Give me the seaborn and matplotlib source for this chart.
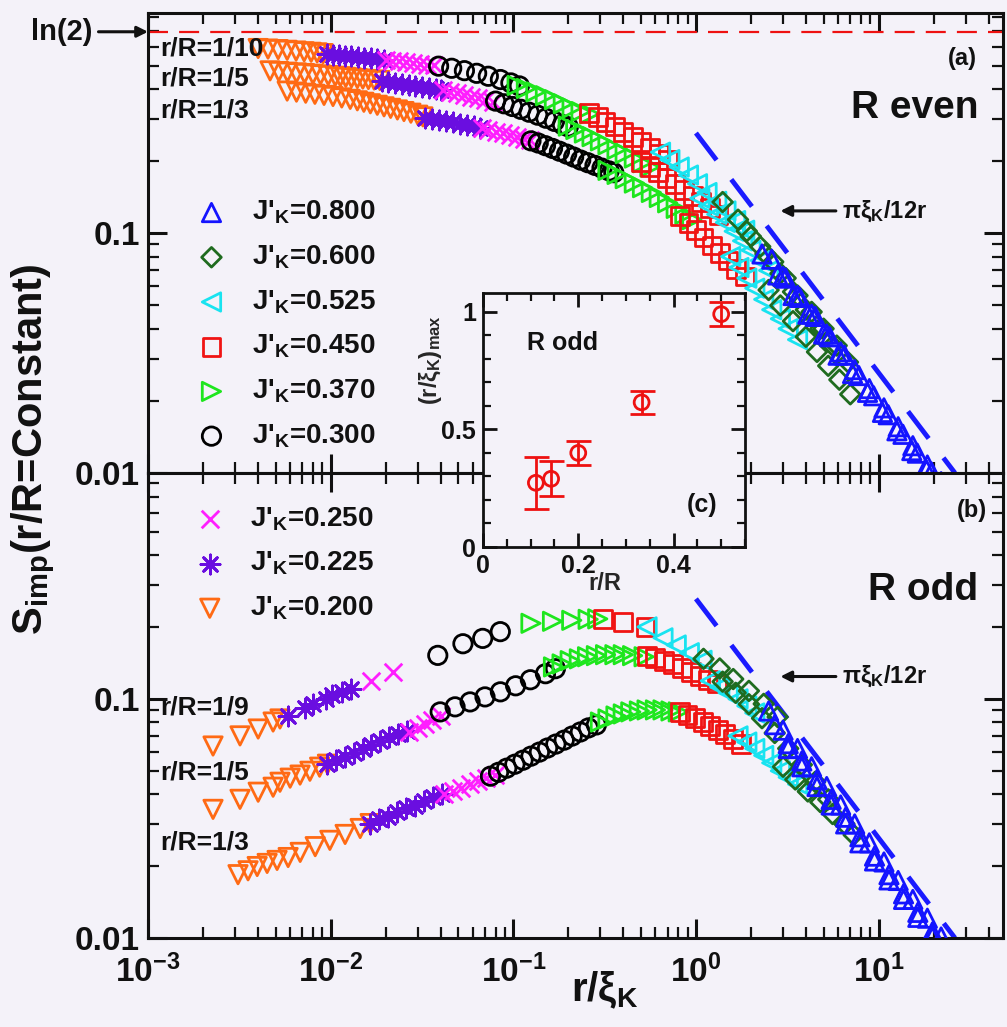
import warnings
warnings.filterwarnings("ignore")
import numpy as np
import pandas as pd
import matplotlib
matplotlib.use("Agg")
import matplotlib.pyplot as plt
from matplotlib.ticker import LogLocator, NullFormatter, MultipleLocator
import seaborn as sns

# ---------------- data ----------------
J_ORDER = ["0.200", "0.225", "0.250", "0.300", "0.370", "0.450", "0.525", "0.600", "0.800"]
LEGEND_TOP = ["0.800", "0.600", "0.525", "0.450", "0.370", "0.300"]
LEGEND_BOTTOM = ["0.250", "0.225", "0.200"]

# panel (a): R even, r/R = 1/10
EVEN_10_X = [
    [0.00401, 0.00454, 0.00516, 0.00578, 0.00647, 0.00716, 0.00782, 0.00843, 0.0091],
    [0.0095, 0.0103, 0.0111, 0.0120, 0.0130, 0.0141, 0.0153, 0.0166, 0.0180, 0.0195],
    [0.0200, 0.0218, 0.0238, 0.0260, 0.0284, 0.0310, 0.0338, 0.0368],
    [0.039, 0.046, 0.054, 0.063, 0.073, 0.085, 0.097, 0.108],
    [0.105, 0.118, 0.133, 0.150, 0.168, 0.188, 0.210, 0.235, 0.262],
    [0.26, 0.29, 0.32, 0.36, 0.40, 0.45, 0.50, 0.56, 0.63, 0.70],
    [0.64, 0.72, 0.81, 0.91, 1.02, 1.15, 1.30, 1.46, 1.65, 1.85],
    [1.4, 1.7, 2.0, 2.4, 2.9, 3.4, 4.0, 4.8, 5.6],
    [2.3, 2.8, 3.4, 4.1, 5.0, 6.0, 7.2, 8.7, 10.5, 12.6, 15.2, 18.3, 21.0],
]
EVEN_10_Y = [
    [0.590, 0.587, 0.584, 0.580, 0.576, 0.572, 0.569, 0.566, 0.562],
    [0.559, 0.556, 0.553, 0.550, 0.547, 0.544, 0.540, 0.537, 0.534, 0.530],
    [0.529, 0.525, 0.521, 0.518, 0.514, 0.510, 0.506, 0.502],
    [0.498, 0.488, 0.477, 0.465, 0.452, 0.438, 0.424, 0.412],
    [0.414, 0.402, 0.389, 0.375, 0.361, 0.347, 0.333, 0.322, 0.315],
    [0.318, 0.305, 0.292, 0.279, 0.265, 0.252, 0.240, 0.227, 0.214, 0.202],
    [0.218, 0.203, 0.189, 0.175, 0.161, 0.148, 0.136, 0.124, 0.113, 0.103],
    [0.135, 0.114, 0.097, 0.082, 0.068, 0.057, 0.048, 0.040, 0.034],
    [0.082, 0.067, 0.055, 0.046, 0.038, 0.031, 0.026, 0.0217, 0.0179, 0.0150, 0.0124, 0.0103, 0.0090],
]

# panel (a): R even, r/R = 1/5
EVEN_5_X = [
    [0.00466, 0.0052, 0.0058, 0.0065, 0.0072, 0.0080, 0.0088, 0.0097, 0.0106, 0.0113, 0.0121,
     0.0130, 0.0140, 0.0150, 0.0161, 0.0173, 0.0186],
    [0.0190, 0.0207, 0.0225, 0.0245, 0.0267, 0.0291, 0.0317, 0.0345, 0.0376, 0.040],
    [0.041, 0.045, 0.049, 0.054, 0.059, 0.064, 0.070, 0.077],
    [0.080, 0.089, 0.099, 0.110, 0.122, 0.136, 0.151, 0.168, 0.186, 0.200],
    [0.20, 0.22, 0.245, 0.27, 0.30, 0.33, 0.37, 0.41, 0.46, 0.51, 0.56],
    [0.50, 0.56, 0.62, 0.69, 0.77, 0.86, 0.96, 1.07, 1.19, 1.33],
    [1.05, 1.17, 1.3, 1.45, 1.62, 1.8, 2.0, 2.25, 2.5],
    [1.9, 2.25, 2.65, 3.1, 3.6, 4.3, 5.0, 5.9, 6.8],
    [2.6, 3.1, 3.7, 4.5, 5.4, 6.5, 7.8, 9.4, 11.3, 13.6, 16.3, 19.5],
]
EVEN_5_Y = [
    [0.476, 0.473, 0.470, 0.467, 0.464, 0.461, 0.458, 0.455, 0.452, 0.450, 0.447,
     0.445, 0.442, 0.440, 0.438, 0.436, 0.434],
    [0.432, 0.428, 0.424, 0.420, 0.416, 0.412, 0.408, 0.404, 0.400, 0.397],
    [0.396, 0.390, 0.384, 0.378, 0.372, 0.366, 0.360, 0.354],
    [0.356, 0.347, 0.338, 0.329, 0.320, 0.311, 0.302, 0.293, 0.284, 0.278],
    [0.280, 0.271, 0.262, 0.253, 0.243, 0.234, 0.224, 0.215, 0.206, 0.197, 0.189],
    [0.199, 0.189, 0.180, 0.170, 0.161, 0.152, 0.143, 0.135, 0.127, 0.119],
    [0.140, 0.130, 0.120, 0.111, 0.102, 0.093, 0.085, 0.077, 0.070],
    [0.102, 0.088, 0.076, 0.065, 0.055, 0.047, 0.040, 0.034, 0.029],
    [0.078, 0.065, 0.054, 0.045, 0.037, 0.031, 0.0255, 0.021, 0.0175, 0.0145, 0.0121, 0.0101],
]

# panel (a): R even, r/R = 1/3
EVEN_3_X = [
    [0.00578, 0.0065, 0.0073, 0.0082, 0.0092, 0.0103, 0.0115, 0.0128, 0.0140, 0.0152, 0.0165,
     0.0180, 0.0196, 0.0213, 0.0232, 0.0252, 0.0275, 0.0300, 0.032],
    [0.033, 0.036, 0.039, 0.043, 0.047, 0.051, 0.056, 0.061, 0.066],
    [0.067, 0.073, 0.080, 0.088, 0.096, 0.105, 0.115, 0.124],
    [0.125, 0.137, 0.150, 0.164, 0.179, 0.196, 0.214, 0.234, 0.256, 0.280, 0.306, 0.335, 0.355],
    [0.33, 0.37, 0.41, 0.46, 0.51, 0.57, 0.63, 0.70, 0.78, 0.87, 0.95],
    [0.82, 0.91, 1.0, 1.1, 1.22, 1.35, 1.5, 1.66, 1.85],
    [1.55, 1.72, 1.9, 2.1, 2.35, 2.6, 2.9, 3.2, 3.6],
    [2.5, 2.9, 3.4, 4.0, 4.6, 5.3, 6.1, 7.0],
    [3.0, 3.6, 4.3, 5.2, 6.2, 7.4, 8.9, 10.7, 12.8, 15.4, 18.5, 22.0],
]
EVEN_3_Y = [
    [0.392, 0.388, 0.384, 0.380, 0.376, 0.372, 0.367, 0.362, 0.357, 0.352, 0.347,
     0.342, 0.337, 0.332, 0.327, 0.322, 0.317, 0.311, 0.306],
    [0.304, 0.300, 0.297, 0.293, 0.290, 0.286, 0.283, 0.279, 0.276],
    [0.274, 0.270, 0.265, 0.261, 0.257, 0.252, 0.248, 0.244],
    [0.243, 0.238, 0.232, 0.226, 0.220, 0.214, 0.208, 0.202, 0.197, 0.192, 0.187, 0.182, 0.179],
    [0.183, 0.176, 0.169, 0.162, 0.155, 0.148, 0.141, 0.134, 0.127, 0.120, 0.114],
    [0.118, 0.110, 0.103, 0.096, 0.089, 0.083, 0.077, 0.071, 0.066],
    [0.080, 0.072, 0.065, 0.059, 0.053, 0.048, 0.044, 0.040, 0.036],
    [0.058, 0.050, 0.043, 0.037, 0.032, 0.028, 0.0245, 0.0213],
    [0.066, 0.055, 0.046, 0.038, 0.032, 0.027, 0.0225, 0.0187, 0.0156, 0.013, 0.0108, 0.0092],
]

# panel (b): R odd, r/R = 1/9
ODD_9_X = [
    [0.00227, 0.00319, 0.00401, 0.00484, 0.00528],
    [0.00585, 0.0072, 0.0080, 0.0094, 0.0102, 0.0115, 0.0129],
    [0.0167, 0.0220],
    [0.0386, 0.0530, 0.0680, 0.0849],
    [0.125, 0.164, 0.209, 0.257, 0.29],
    [0.31, 0.40, 0.53],
    [0.54, 0.66, 0.78, 0.92, 1.08],
    [1.1, 1.35, 1.6, 1.95, 2.35, 2.8],
    [2.5, 3.0, 3.6, 4.3, 5.2, 6.2, 7.4, 8.9, 10.7, 12.8, 15.4, 18.5, 22.0],
]
ODD_9_Y = [
    [0.0635, 0.070, 0.0748, 0.080, 0.0824],
    [0.0848, 0.092, 0.095, 0.100, 0.104, 0.107, 0.110],
    [0.119, 0.130],
    [0.152, 0.170, 0.179, 0.191],
    [0.207, 0.211, 0.213, 0.215, 0.216],
    [0.215, 0.210, 0.200],
    [0.200, 0.180, 0.168, 0.156, 0.145],
    [0.147, 0.134, 0.121, 0.108, 0.0953, 0.084],
    [0.089, 0.074, 0.062, 0.052, 0.043, 0.036, 0.030, 0.025, 0.0208, 0.0174, 0.0145, 0.0121, 0.0101],
]

# panel (b): R odd, r/R = 1/5
ODD_5_X = [
    [0.00227, 0.00319, 0.00401, 0.00484, 0.00528, 0.0060, 0.0068, 0.0077, 0.0087, 0.0096],
    [0.0096, 0.0107, 0.0120, 0.0134, 0.0150, 0.0167, 0.0187, 0.0209, 0.0235, 0.0262],
    [0.027, 0.030, 0.033, 0.036, 0.040],
    [0.0398, 0.048, 0.058, 0.070, 0.085, 0.103, 0.124, 0.150, 0.170],
    [0.166, 0.185, 0.205, 0.23, 0.255, 0.285, 0.32, 0.36, 0.40, 0.45, 0.52],
    [0.54, 0.60, 0.67, 0.75, 0.84, 0.94, 1.05, 1.17, 1.3],
    [1.2, 1.35, 1.5, 1.7, 1.9, 2.1],
    [1.4, 1.65, 1.95, 2.3, 2.7, 3.2, 3.8, 4.5, 5.3],
    [2.7, 3.2, 3.8, 4.6, 5.5, 6.6, 7.9, 9.5, 11.4, 13.7, 16.4, 19.7],
]
ODD_5_Y = [
    [0.0345, 0.0380, 0.0407, 0.0427, 0.0448, 0.0466, 0.0480, 0.0498, 0.0518, 0.0533],
    [0.0533, 0.0554, 0.0570, 0.0592, 0.0617, 0.0640, 0.0666, 0.0692, 0.0713, 0.0734],
    [0.0727, 0.0756, 0.0786, 0.0816, 0.0848],
    [0.0882, 0.0926, 0.0971, 0.1019, 0.1070, 0.1134, 0.1202, 0.1274, 0.1337],
    [0.136, 0.140, 0.1445, 0.147, 0.150, 0.1516, 0.153, 0.153, 0.153, 0.1516, 0.150],
    [0.1516, 0.1487, 0.1445, 0.140, 0.135, 0.130, 0.125, 0.120, 0.116],
    [0.119, 0.112, 0.106, 0.100, 0.0934, 0.0873],
    [0.118, 0.106, 0.095, 0.083, 0.072, 0.062, 0.053, 0.045, 0.038],
    [0.078, 0.065, 0.055, 0.046, 0.038, 0.032, 0.0265, 0.022, 0.0184, 0.0153, 0.0128, 0.0106],
]

# panel (b): R odd, r/R = 1/3
ODD_3_X = [
    [0.00311, 0.00353, 0.00396, 0.00449, 0.00509, 0.00585, 0.00681, 0.00823, 0.0099, 0.0120,
     0.01451, 0.01645],
    [0.0165, 0.0185, 0.0207, 0.0232, 0.026, 0.029, 0.0325, 0.0364, 0.0408],
    [0.042, 0.047, 0.052, 0.058, 0.064, 0.071, 0.079],
    [0.075, 0.083, 0.092, 0.102, 0.113, 0.125, 0.139, 0.154, 0.171, 0.19, 0.21, 0.233, 0.258, 0.285],
    [0.30, 0.33, 0.365, 0.40, 0.44, 0.49, 0.54, 0.60, 0.66, 0.73, 0.80],
    [0.82, 0.9, 0.99, 1.09, 1.2, 1.32, 1.45, 1.6, 1.76],
    [1.7, 1.9, 2.1, 2.35, 2.6, 2.9, 3.2, 3.6],
    [3.0, 3.5, 4.1, 4.8, 5.6, 6.5, 7.3],
    [3.2, 3.8, 4.6, 5.5, 6.6, 7.9, 9.5, 11.4, 13.7, 16.4, 19.7, 23.0],
]
ODD_3_Y = [
    [0.0184, 0.0191, 0.0199, 0.0205, 0.0211, 0.0217, 0.0228, 0.0241, 0.0256, 0.0271,
     0.0287, 0.0301],
    [0.0301, 0.0313, 0.0322, 0.0335, 0.0348, 0.0358, 0.0373, 0.0388, 0.0399],
    [0.0399, 0.0411, 0.0423, 0.0440, 0.0453, 0.0466, 0.0480],
    [0.0475, 0.0493, 0.0513, 0.0533, 0.0554, 0.0576, 0.0599, 0.0623, 0.0647, 0.0672, 0.0699,
     0.0727, 0.0756, 0.0778],
    [0.080, 0.0824, 0.0848, 0.0865, 0.0882, 0.089, 0.0899, 0.0899, 0.0899, 0.089, 0.0882],
    [0.0882, 0.0857, 0.0832, 0.080, 0.077, 0.0741, 0.0713, 0.0679, 0.0647],
    [0.070, 0.066, 0.062, 0.058, 0.054, 0.050, 0.047, 0.044],
    [0.052, 0.046, 0.041, 0.037, 0.033, 0.030, 0.027],
    [0.062, 0.052, 0.043, 0.036, 0.030, 0.025, 0.021, 0.0175, 0.0145, 0.0122, 0.0101, 0.0087],
]

# asymptote pi*xi_K/(12 r), and ln(2)
ASYM_X = [1.0, 26.2]
ASYM_Y = [0.262, 0.0100]
LN2 = 0.693

# inset (c)
INSET_X = [0.111, 0.143, 0.200, 0.333, 0.500]
INSET_Y = [0.273, 0.290, 0.400, 0.615, 0.990]
INSET_ERR = [0.110, 0.075, 0.050, 0.050, 0.050]

CURVE_LABELS_A = ["r/R=1/10", "r/R=1/5", "r/R=1/3"]
CURVE_LABELS_B = ["r/R=1/9", "r/R=1/5", "r/R=1/3"]
XTICKS = [1e-3, 1e-2, 1e-1, 1e0, 1e1]
XTICKLABELS = ["10$^{-3}$", "10$^{-2}$", "10$^{-1}$", "10$^{0}$", "10$^{1}$"]
YTICKS = [0.01, 0.1]
YTICKLABELS = ["0.01", "0.1"]

# ---------------- style ----------------
COLORS = {"0.800": "#1414ff", "0.600": "#1f6b1f", "0.525": "#19e3f0", "0.450": "#f01414",
          "0.370": "#1ee61e", "0.300": "#000000", "0.250": "#ff1eff", "0.225": "#6a0ee0",
          "0.200": "#ff6a14"}
MARKERS = {"0.800": "^", "0.600": "D", "0.525": "<", "0.450": "s", "0.370": ">",
           "0.300": "o", "0.250": "x", "0.225": (8, 2, 0), "0.200": "v"}
SIZES = {"0.800": 175, "0.600": 100, "0.525": 175, "0.450": 165, "0.370": 175,
         "0.300": 175, "0.250": 160, "0.225": 190, "0.200": 175}
LINE_ART = {"0.250", "0.225"}
BG = "#f4f2f9"

sns.set_theme(style="ticks")
plt.rcParams.update({
    "font.family": ["Liberation Sans", "DejaVu Sans"],
    "font.weight": "bold",
    "axes.labelweight": "bold",
    "mathtext.fontset": "custom",
    "mathtext.rm": "Liberation Sans:bold",
    "mathtext.it": "Liberation Sans:bold",
    "mathtext.bf": "Liberation Sans:bold",
    "mathtext.sf": "Liberation Sans:bold",
    "axes.edgecolor": "#111111",
    "xtick.color": "#111111",
    "ytick.color": "#111111",
    "text.color": "#111111",
})


def jlabel(j):
    return "J'$_\\mathrm{K}$=" + j


# ---------------- long table ----------------
rows = []
panels = {"a": [(EVEN_10_X, EVEN_10_Y), (EVEN_5_X, EVEN_5_Y), (EVEN_3_X, EVEN_3_Y)],
          "b": [(ODD_9_X, ODD_9_Y), (ODD_5_X, ODD_5_Y), (ODD_3_X, ODD_3_Y)]}
for pname, curves in panels.items():
    for ci, (xs, ys) in enumerate(curves):
        for j, xv, yv in zip(J_ORDER, xs, ys):
            for a, b in zip(xv, yv):
                rows.append((pname, ci, j, a, b))
df = pd.DataFrame(rows, columns=["panel", "curve", "J", "x", "y"])

fig = plt.figure(figsize=(10.07, 10.27), dpi=100, facecolor=BG)
ax_a = fig.add_axes([0.14697, 0.53944, 0.84906, 0.44791])
ax_b = fig.add_axes([0.14697, 0.08666, 0.84906, 0.45278])


def style_main(ax):
    ax.set_xscale("log")
    ax.set_yscale("log")
    ax.set_facecolor(BG)
    for s in ax.spines.values():
        s.set_linewidth(2.2)
        s.set_color("#111111")


def finish_main(ax, ytop, show_xlabels):
    ax.set_xlim(1e-3, 48)
    ax.set_ylim(0.01, ytop)
    ax.set_xticks(XTICKS, XTICKLABELS)
    ax.set_yticks(YTICKS, YTICKLABELS)
    ax.xaxis.set_minor_locator(LogLocator(base=10, subs=np.arange(2, 10) * 1.0, numticks=30))
    ax.yaxis.set_minor_locator(LogLocator(base=10, subs=np.arange(2, 10) * 1.0, numticks=30))
    ax.xaxis.set_minor_formatter(NullFormatter())
    ax.yaxis.set_minor_formatter(NullFormatter())
    ax.tick_params(which="both", direction="in", top=True, right=True, labelsize=24)
    ax.tick_params(which="major", length=14, width=2.2)
    ax.tick_params(which="minor", length=8, width=1.6)
    ax.tick_params(axis="x", pad=12)
    ax.tick_params(axis="y", pad=6)
    ax.tick_params(axis="x", labelbottom=show_xlabels)
    ax.set_xlabel("")
    ax.set_ylabel("")


def draw_points(ax, sub):
    handles = {}
    for j in J_ORDER:
        d = sub[sub["J"] == j]
        c = COLORS[j]
        kw = dict(marker=MARKERS[j], s=SIZES[j], linewidth=2.0, color=c, edgecolor=c,
                  legend=False, zorder=3)
        if j not in LINE_ART:
            kw["facecolors"] = "none"
        sns.scatterplot(data=d, x="x", y="y", ax=ax, label=jlabel(j), **kw)
        handles[j] = ax.collections[-1]
    return handles


style_main(ax_a)
style_main(ax_b)
h_a = draw_points(ax_a, df[df["panel"] == "a"])
h_b = draw_points(ax_b, df[df["panel"] == "b"])

for ax in (ax_a, ax_b):
    sns.lineplot(x=ASYM_X, y=ASYM_Y, ax=ax, color="#1a1aff", linewidth=3.5,
                 linestyle=(0, (7, 5)), zorder=2)
ax_a.axhline(LN2, color="#ee1111", linewidth=1.6, linestyle=(0, (9, 5)), zorder=2)

finish_main(ax_a, 0.83, False)
finish_main(ax_b, 0.88, True)

# legends
leg_kw = dict(loc="upper left", frameon=False, fontsize=20, handlelength=1.0,
              handletextpad=0.95, labelspacing=0.62, borderpad=0, borderaxespad=0,
              scatterpoints=1)
ax_a.legend([h_a[j] for j in LEGEND_TOP], [jlabel(j) for j in LEGEND_TOP],
            bbox_to_anchor=(0.058, 0.596), **leg_kw)
ax_b.legend([h_b[j] for j in LEGEND_BOTTOM], [jlabel(j) for j in LEGEND_BOTTOM],
            bbox_to_anchor=(0.056, 0.931), **leg_kw)

# curve labels
for lab, yy in zip(CURVE_LABELS_A, [0.922, 0.857, 0.787]):
    ax_a.text(0.014, yy, lab, transform=ax_a.transAxes, fontsize=19, ha="left",
              va="center", zorder=5)
for lab, yy in zip(CURVE_LABELS_B, [0.495, 0.355, 0.206]):
    ax_b.text(0.014, yy, lab, transform=ax_b.transAxes, fontsize=19, ha="left",
              va="center", zorder=5)

ax_a.text(0.953, 0.902, "(a)", transform=ax_a.transAxes, fontsize=17, ha="center", va="center")
ax_a.text(0.897, 0.793, "R even", transform=ax_a.transAxes, fontsize=28, ha="center", va="center")
ax_b.text(0.964, 0.920, "(b)", transform=ax_b.transAxes, fontsize=17, ha="center", va="center")
ax_b.text(0.906, 0.748, "R odd", transform=ax_b.transAxes, fontsize=28, ha="center", va="center")

arrow = dict(arrowstyle="-|>", color="#111111", lw=2.2, mutation_scale=16, shrinkA=2, shrinkB=0)
for ax in (ax_a, ax_b):
    ax.annotate("πξ$_\\mathrm{K}$/12r", xy=(2.9, 0.124), xytext=(6.3, 0.124),
                fontsize=17, ha="left", va="center", arrowprops=arrow, zorder=6)
ax_a.annotate("ln(2)", xy=(0, LN2), xycoords=("axes fraction", "data"),
              xytext=(-40, 0), textcoords="offset points", fontsize=21, ha="right",
              va="center", arrowprops=arrow, annotation_clip=False)

fig.text(0.033, 0.562, "S$_\\mathrm{imp}$(r/R=Constant)", rotation=90, fontsize=30,
         ha="center", va="center")
fig.text(0.600, 0.036, "r/ξ$_\\mathrm{K}$", fontsize=29, ha="center", va="center")

# ---------------- inset (c) ----------------
ax_c = fig.add_axes([0.47964, 0.46738, 0.26018, 0.24732])
ax_c.set_facecolor(BG)
for s in ax_c.spines.values():
    s.set_linewidth(2.0)
    s.set_color("#111111")
ax_c.errorbar(INSET_X, INSET_Y, yerr=INSET_ERR, fmt="none", ecolor="#ee1111",
              elinewidth=2.0, capsize=9, capthick=2.0, zorder=3)
sns.scatterplot(x=INSET_X, y=INSET_Y, ax=ax_c, marker="o", s=115, color="#ee1111",
                edgecolor="#ee1111", facecolors="none", linewidth=2.0, legend=False, zorder=4)
ax_c.set_xlim(0, 0.55)
ax_c.set_ylim(0, 1.08)
ax_c.set_xticks([0, 0.2, 0.4], ["0", "0.2", "0.4"])
ax_c.set_yticks([0, 0.5, 1.0], ["0", "0.5", "1"])
ax_c.xaxis.set_minor_locator(MultipleLocator(0.05))
ax_c.yaxis.set_minor_locator(MultipleLocator(0.1))
ax_c.tick_params(which="both", direction="in", top=True, right=True, labelsize=18)
ax_c.tick_params(which="major", length=10, width=2.0, pad=5)
ax_c.tick_params(which="minor", length=6, width=1.6)
ax_c.set_xlabel("r/R", fontsize=17)
ax_c.xaxis.set_label_coords(0.466, -0.10)
ax_c.set_ylabel("(r/ξ$_\\mathrm{K}$)$_\\mathrm{max}$", fontsize=17)
ax_c.yaxis.set_label_coords(-0.15, 0.736)
ax_c.text(0.305, 0.803, "R odd", transform=ax_c.transAxes, fontsize=18, ha="center", va="center")
ax_c.text(0.836, 0.165, "(c)", transform=ax_c.transAxes, fontsize=18, ha="center", va="center")

fig.savefig("out.png", dpi=100, facecolor=BG)
